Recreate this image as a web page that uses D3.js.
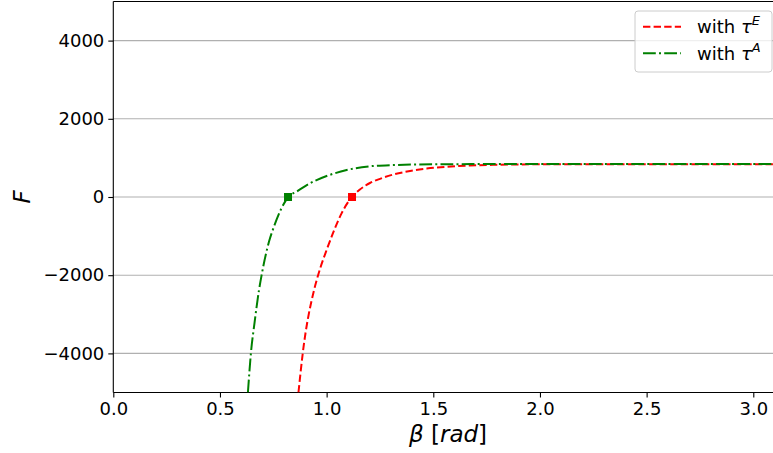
<!DOCTYPE html>
<html lang="en">
<head>
    <meta charset="UTF-8">
    <title>F vs beta</title>
    <script src="https://d3js.org/d3.v7.min.js"></script>
    <style>
        body { margin: 0; background: #fff; }
        text { font-family: "DejaVu Sans", sans-serif; fill: #000; }
    </style>
</head>
<body>
    <svg id="chart"></svg>
    <script>
        const width = 773;
        const height = 453;

        // curve with tau^E (red, dashed)
        const betaE = [0.868, 0.888, 0.941, 0.960, 1.003, 1.036, 1.070, 1.102, 1.119, 1.156, 1.203, 1.250,
                       1.313, 1.391, 1.469, 1.563, 1.672, 1.780, 2.000, 2.500, 3.142];
        const forceE = [-5000, -4000, -2380, -2000, -1310, -840, -420, -120, 0, 192, 358, 465,
                        575, 665, 726, 772, 805, 823, 836, 840, 840];

        // curve with tau^A (green, dash-dot)
        const betaA = [0.631, 0.645, 0.662, 0.683, 0.695, 0.730, 0.753, 0.786, 0.820, 0.860, 0.922, 1.000,
                       1.094, 1.202, 1.310, 1.500, 1.800, 2.500, 3.142];
        const forceA = [-5000, -4000, -3220, -2380, -2005, -1140, -760, -315, 0, 140, 350, 536,
                        690, 785, 817, 835, 843, 843, 843];

        // zero crossings (square markers)
        const rootsE = [1.119];
        const rootsA = [0.819];

        const xTicks = [0, 0.5, 1.0, 1.5, 2.0, 2.5, 3.0];
        const yTicks = [-4000, -2000, 0, 2000, 4000];

        const red = "#ff0000";
        const green = "#008000";

        const x = d3.scaleLinear().domain([0, Math.PI]).range([113.3, 113.3 + Math.PI * 213.33]);
        const y = d3.scaleLinear().domain([-5000, 5000]).range([392.5, 1.5]);

        const svg = d3.select("#chart")
            .attr("width", width)
            .attr("height", height);

        svg.append("defs").append("clipPath").attr("id", "plot-clip")
            .append("rect")
            .attr("x", x(0)).attr("y", y(5000))
            .attr("width", x(Math.PI) - x(0))
            .attr("height", y(-5000) - y(5000));

        // grid
        svg.append("g")
            .selectAll("line")
            .data(yTicks)
            .join("line")
            .attr("x1", x(0)).attr("x2", width)
            .attr("y1", d => y(d)).attr("y2", d => y(d))
            .attr("stroke", "#b0b0b0")
            .attr("stroke-width", 1.1);

        // axes
        const fmtY = d => d < 0 ? "\u2212" + Math.abs(d) : String(d);

        const xAxis = svg.append("g")
            .attr("transform", `translate(0,${y(-5000)})`)
            .call(d3.axisBottom(x).tickValues(xTicks).tickFormat(d3.format(".1f")).tickSize(5).tickPadding(4));
        const yAxis = svg.append("g")
            .attr("transform", `translate(${x(0)},0)`)
            .call(d3.axisLeft(y).tickValues(yTicks).tickFormat(fmtY).tickSize(5).tickPadding(4));

        [xAxis, yAxis].forEach(g => {
            g.select(".domain").remove();
            g.selectAll(".tick line").attr("stroke", "#000").attr("stroke-width", 1.1);
            g.selectAll(".tick text").style("font-size", "18px").attr("fill", "#000");
        });
        xAxis.selectAll(".tick text").attr("dy", "0.74em");

        // spines
        svg.append("line")
            .attr("x1", x(0)).attr("x2", x(0))
            .attr("y1", y(5000)).attr("y2", y(-5000))
            .attr("stroke", "#000").attr("stroke-width", 1.1);
        svg.append("line")
            .attr("x1", x(0)).attr("x2", width)
            .attr("y1", y(-5000)).attr("y2", y(-5000))
            .attr("stroke", "#000").attr("stroke-width", 1.1);
        svg.append("line")
            .attr("x1", x(0)).attr("x2", width)
            .attr("y1", y(5000)).attr("y2", y(5000))
            .attr("stroke", "#000").attr("stroke-width", 1.1);

        // curves
        const line = d3.line()
            .x(d => x(d[0]))
            .y(d => y(d[1]))
            .curve(d3.curveMonotoneX);

        const plot = svg.append("g").attr("clip-path", "url(#plot-clip)");

        plot.append("path")
            .datum(d3.zip(betaE, forceE))
            .attr("d", line)
            .attr("fill", "none")
            .attr("stroke", red)
            .attr("stroke-width", 2)
            .attr("stroke-dasharray", "7.4,3.2");

        plot.append("path")
            .datum(d3.zip(betaA, forceA))
            .attr("d", line)
            .attr("fill", "none")
            .attr("stroke", green)
            .attr("stroke-width", 2)
            .attr("stroke-dasharray", "12.8,3.2,2,3.2");

        const sq = 8;
        plot.selectAll("rect.rootE")
            .data(rootsE)
            .join("rect")
            .attr("class", "rootE")
            .attr("x", d => x(d) - sq / 2).attr("y", y(0) - sq / 2)
            .attr("width", sq).attr("height", sq)
            .attr("fill", red);
        plot.selectAll("rect.rootA")
            .data(rootsA)
            .join("rect")
            .attr("class", "rootA")
            .attr("x", d => x(d) - sq / 2).attr("y", y(0) - sq / 2)
            .attr("width", sq).attr("height", sq)
            .attr("fill", green);

        // axis labels
        const xl = svg.append("text")
            .attr("x", 448).attr("y", 442)
            .attr("text-anchor", "middle")
            .style("font-size", "23px");
        xl.append("tspan").style("font-style", "italic").text("\u03b2");
        xl.append("tspan").text(" [");
        xl.append("tspan").style("font-style", "italic").text("rad");
        xl.append("tspan").text("]");

        svg.append("text")
            .attr("transform", `translate(30,${y(0)}) rotate(-90)`)
            .attr("text-anchor", "middle")
            .style("font-size", "23px")
            .style("font-style", "italic")
            .text("F");

        // legend
        const legend = svg.append("g");
        legend.append("rect")
            .attr("x", 635).attr("y", 11)
            .attr("width", 137).attr("height", 61)
            .attr("rx", 3)
            .attr("fill", "#fff").attr("fill-opacity", 0.8)
            .attr("stroke", "#cccccc").attr("stroke-width", 1);

        const entries = [
            { sup: "E", color: red, dash: "7.4,3.2", ly: 26.7 },
            { sup: "A", color: green, dash: "12.8,3.2,2,3.2", ly: 53.3 }
        ];
        entries.forEach(e => {
            legend.append("line")
                .attr("x1", 643).attr("x2", 681)
                .attr("y1", e.ly).attr("y2", e.ly)
                .attr("stroke", e.color).attr("stroke-width", 2)
                .attr("stroke-dasharray", e.dash);
            const t = legend.append("text")
                .attr("x", 697).attr("y", e.ly + 6.5)
                .style("font-size", "18px");
            t.append("tspan").text("with ");
            t.append("tspan").style("font-style", "italic").text("\u03c4");
            t.append("tspan").attr("dy", -8).style("font-size", "13px").style("font-style", "italic").text(e.sup);
        });
    </script>
</body>
</html>
